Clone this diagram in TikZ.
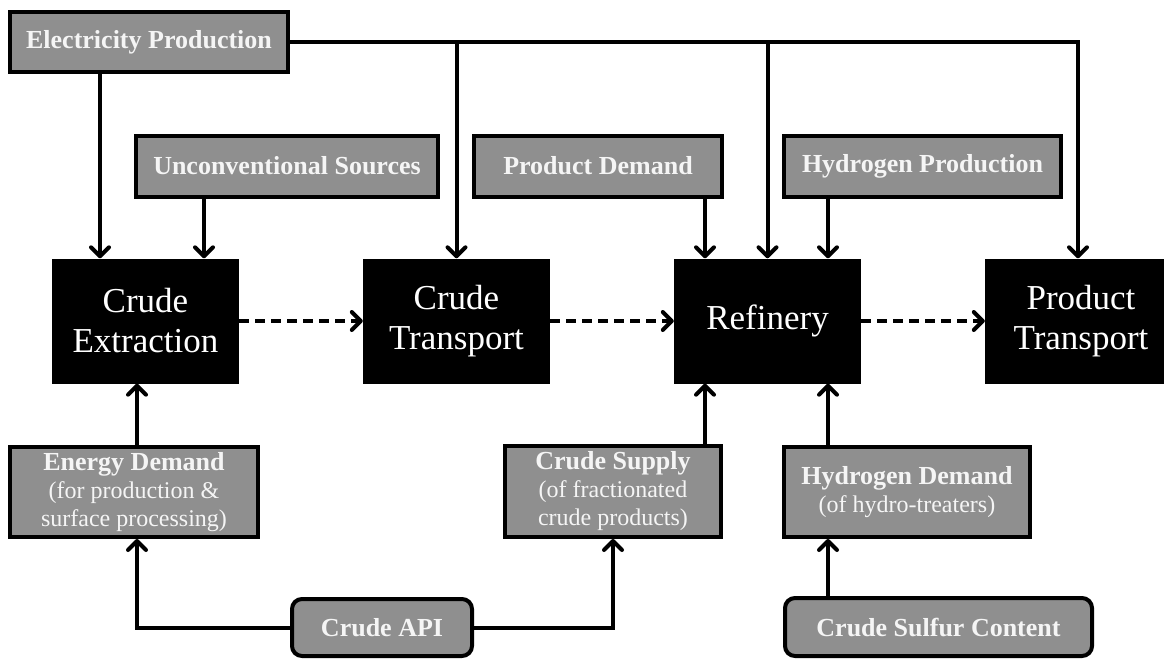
\documentclass[tikz,border=0pt]{standalone}
\usepackage{fontspec}
\setmainfont{Liberation Serif}
\usetikzlibrary{arrows.meta}
\definecolor{boxgray}{RGB}{143,143,143}
\newcommand{\subtxt}[1]{{\normalfont\fontsize{24}{28}\selectfont #1}}
\begin{document}
\begin{tikzpicture}[x=1pt,y=-1pt,
  gbox/.style={draw=black, line width=4pt, fill=boxgray, text=white!96!black,
    font=\bfseries\fontsize{26}{28}\selectfont, inner sep=0pt, align=center},
  rbox/.style={gbox, rounded corners=10pt},
  bbox/.style={fill=black, text=white, font=\fontsize{35}{40}\selectfont,
    inner sep=0pt, align=center, minimum height=125pt},
  arr/.style={line width=4pt, -{Straight Barb[length=9pt,width=18pt,round]}},
  darr/.style={arr, dash pattern=on 10pt off 6pt}]
\useasboundingbox (0,0) rectangle (1164,661);

% top gray boxes
\node[gbox, minimum width=278pt, minimum height=60pt] (elec) at (149,42) {Electricity Production};
\node[gbox, minimum width=302pt, minimum height=61pt] (unc) at (287,166) {Unconventional Sources};
\node[gbox, minimum width=248pt, minimum height=61pt] (pd) at (598,166) {Product Demand};
\node[gbox, minimum width=277pt, minimum height=61pt] (hprod) at (922.5,166) {Hydrogen Production};

% black process boxes
\node[bbox, minimum width=187pt] (ext) at (145.5,321) {Crude\\Extraction};
\node[bbox, minimum width=187pt] (trans) at (456.5,321) {Crude\\Transport};
\node[bbox, minimum width=187pt] (ref) at (767.5,321) {Refinery};
\node[bbox, minimum width=192pt] (prod) at (1081,321) {Product\\Transport};

% bottom gray boxes
\node[gbox, minimum width=248pt, minimum height=90pt] (edem) at (134,492)
  {Energy Demand\\\subtxt{(for production \&}\\\subtxt{surface processing)}};
\node[gbox, minimum width=216pt, minimum height=91pt] (supply) at (613,491.5)
  {Crude Supply\\\subtxt{(of fractionated}\\\subtxt{crude products)}};
\node[gbox, minimum width=246pt, minimum height=90pt] (hdem) at (907,492)
  {Hydrogen Demand\\\subtxt{(of hydro-treaters)}};
\node[rbox, minimum width=180pt, minimum height=57pt] (api) at (382,627.5) {Crude API};
\node[rbox, minimum width=307pt, minimum height=58pt] (sulf) at (938.5,627) {Crude Sulfur Content};

% electricity distribution
\draw[arr] (elec.east) -| ([xshift=-3pt]prod.north);
\draw[arr] (trans.north |- elec.east) -- (trans.north);
\draw[arr] (ref.north |- elec.east) -- (ref.north);
\draw[arr] ([xshift=-45.5pt]ext.north |- elec.south) -- ([xshift=-45.5pt]ext.north);

% other inputs from above
\draw[arr] ([xshift=58.5pt]ext.north |- unc.south) -- ([xshift=58.5pt]ext.north);
\draw[arr] ([xshift=-62.5pt]ref.north |- pd.south) -- ([xshift=-62.5pt]ref.north);
\draw[arr] ([xshift=60.5pt]ref.north |- hprod.south) -- ([xshift=60.5pt]ref.north);

% process chain
\draw[darr] (ext.east) -- (trans.west);
\draw[darr] (trans.east) -- (ref.west);
\draw[darr] (ref.east) -- (prod.west);

% inputs from below
\draw[arr] ([xshift=3pt]edem.north) -- ([xshift=3pt]edem.north |- ext.south);
\draw[arr] (api.west) -| ([xshift=3pt]edem.south);
\draw[arr] (api.east) -| (supply.south);
\draw[arr] ([xshift=92pt]supply.north) -- ([xshift=92pt]supply.north |- ref.south);
\draw[arr] ([xshift=-79pt]hdem.north) -- ([xshift=-79pt]hdem.north |- ref.south);
\draw[arr] ([xshift=-110.5pt]sulf.north) -- ([xshift=-110.5pt]sulf.north |- hdem.south);
\end{tikzpicture}
\end{document}
